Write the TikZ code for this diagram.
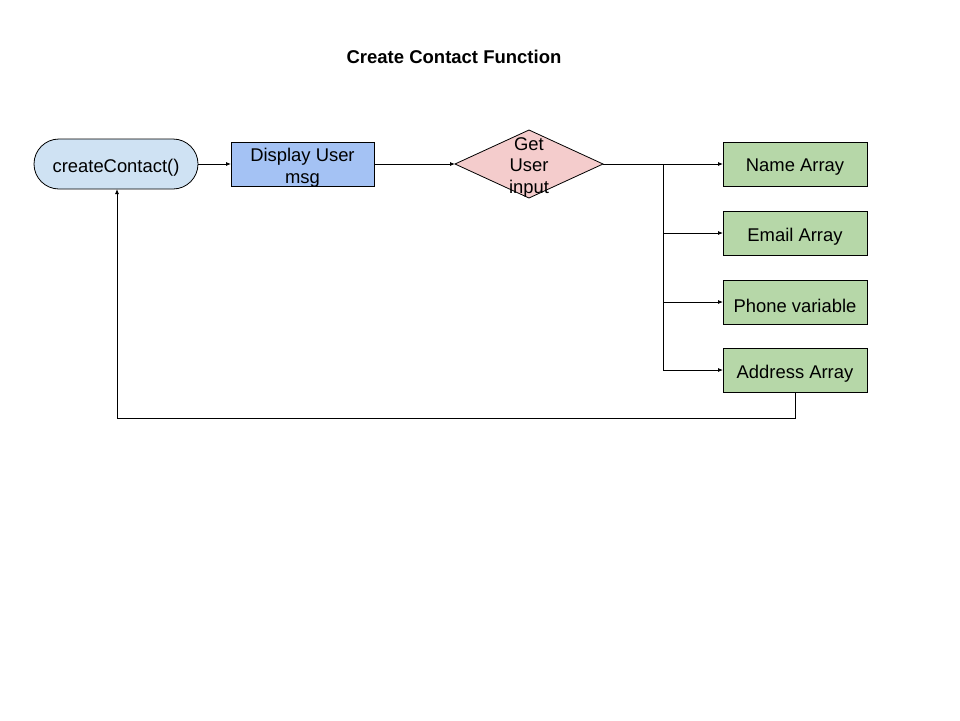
\documentclass[tikz,border=0pt]{standalone}
\usepackage{fontspec}
\setmainfont{Liberation Sans}
\usetikzlibrary{shapes.geometric,arrows.meta}
\definecolor{cblue}{HTML}{CFE2F3}
\definecolor{dblue}{HTML}{A4C2F4}
\definecolor{dpink}{HTML}{F4CCCC}
\definecolor{dgreen}{HTML}{B6D7A8}
\begin{document}
\begin{tikzpicture}[x=1pt,y=-1pt,
  every node/.style={font=\fontsize{18.4}{21.5}\selectfont, inner sep=0pt, outer sep=0pt},
  boxtext/.style={align=center, yshift=-3.5pt, font=\fontsize{18.4}{21.5}\selectfont},
  startbox/.style={draw, line width=0.8pt, fill=cblue, rounded corners=25pt, minimum width=164pt, minimum height=50pt},
  procbox/.style={draw, line width=0.8pt, fill=dblue, minimum width=143pt, minimum height=44pt},
  decbox/.style={draw, line width=0.8pt, fill=dpink, diamond, aspect=2.18, minimum width=148pt, minimum height=68pt},
  databox/.style={draw, line width=0.8pt, fill=dgreen, minimum width=144pt, minimum height=44pt},
  conn/.style={line width=0.8pt, -{Latex[length=5pt,width=4pt]}}
]
\useasboundingbox (0,0) rectangle (960,720);
\node[font=\fontsize{18.5}{21}\selectfont\bfseries] (title) at (454,57) {Create Contact Function};
\node[startbox, label={[boxtext]center:createContact()}] (start) at (116,164) {};
\node[procbox, label={[boxtext]center:Display User\\msg}] (disp) at (302.5,164) {};
\node[decbox, label={[boxtext, yshift=0.5pt]center:Get\\User\\input}] (dec) at (529,164) {};
\node[databox, label={[boxtext]center:Name Array}] (name) at (795,164) {};
\node[databox, label={[boxtext]center:Email Array}] (email) at (795,233) {};
\node[databox, label={[boxtext]center:Phone variable}] (phone) at (795,302) {};
\node[databox, label={[boxtext]center:Address Array}] (addr) at (795,370) {};
\coordinate (br) at (663,164);
\coordinate (ret) at (795,418);
\draw[conn] (start) -- (disp);
\draw[conn] (disp) -- (dec);
\draw[conn] (dec) -- (name);
\draw[conn] (br) |- (email);
\draw[conn] (br) |- (phone);
\draw[conn] (br) |- (addr);
\draw[conn] (addr.south) -- (ret) -| ([xshift=1pt]start.south);
\end{tikzpicture}
\end{document}
